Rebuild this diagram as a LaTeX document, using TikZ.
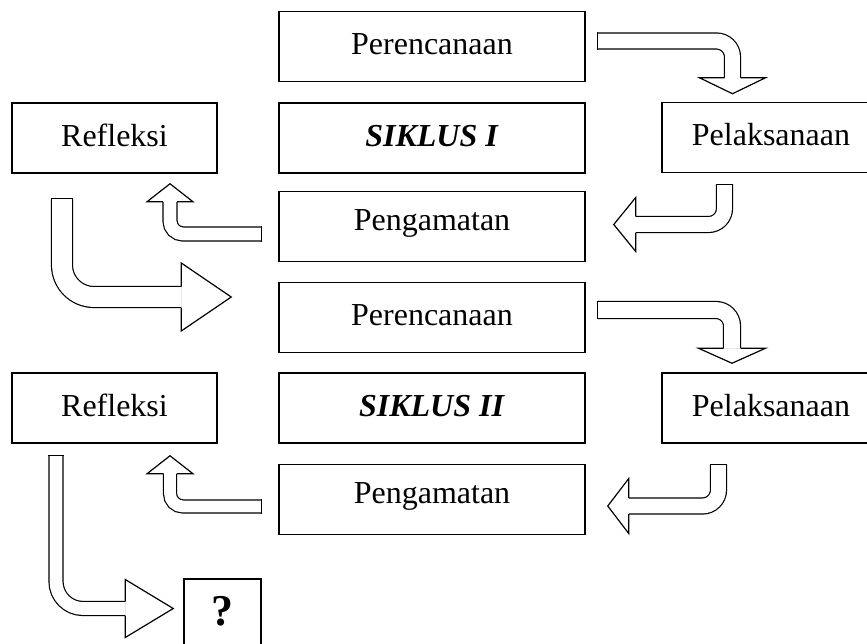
\documentclass[tikz,border=0pt]{standalone}
\usepackage{fontspec}
\setmainfont{Liberation Serif}
\usetikzlibrary{calc}
\newcommand{\arrowlw}{1.2pt}
% hollow bent block arrow: start, corner, tip, half shaft, half head, head length, bend radius
\newcommand{\bentarrow}[7]{%
  \coordinate (ab) at ($(#3)!#6!(#2)$);
  \pgfmathsetlengthmacro{\gap}{2*#4-\arrowlw}
  \draw[line width=\arrowlw, double, double distance=\gap, rounded corners=#7] (#1) -- (#2) -- (ab);
  \draw[line width=\arrowlw, line cap=rect] ($(#1)!#4!90:(#2)$) -- ($(#1)!#4!-90:(#2)$);
  \filldraw[line width=\arrowlw, fill=white] ($(ab)!#4!90:(#3)$) -- ($(ab)!#5!90:(#3)$) -- (#3)
     -- ($(ab)!#5!-90:(#3)$) -- ($(ab)!#4!-90:(#3)$);}

\begin{document}
\begin{tikzpicture}[x=1pt, y=-1pt, font=\fontsize{32}{38}\selectfont,
    box/.style={draw, line width=1.5pt, minimum height=70pt, inner sep=0pt, text height=22pt, text depth=6pt},
    midbox/.style={box, minimum width=306pt},
    obsbox/.style={midbox, text depth=14pt},
    sidebox/.style={box, minimum width=205pt},
    actbox/.style={box, minimum width=218pt}]
  \useasboundingbox (0,0) rectangle (867,643);
  % ================================================================== cycle I
  \node[midbox] (pren1) at (432,46.5) {Perencanaan};
  \node[midbox] (sik1) at (432,138) {\textbf{\textit{SIKLUS I}}};
  \node[obsbox] (amat1) at (432,226.5) {Pengamatan};
  \node[sidebox] (refl1) at (114.5,138) {Refleksi};
  \node[actbox] (laks1) at (771,137.5) {Pelaksanaan};
  % ================================================================== cycle II
  \node[midbox] (pren2) at (432,317.5) {Perencanaan};
  \node[midbox] (sik2) at (432,408) {\textbf{\textit{SIKLUS II}}};
  \node[obsbox] (amat2) at (432,499.5) {Pengamatan};
  \node[sidebox] (refl2) at (114.5,408) {Refleksi};
  \node[actbox] (laks2) at (771,408) {Pelaksanaan};
  \node[box, minimum width=77pt, minimum height=68pt, font=\fontsize{44}{50}\selectfont\bfseries,
        text height=30pt] (hasil) at (222.5,613) {?};
  % ================================================================== block arrows
  \coordinate (a1s) at ($(pren1.east)+(12,-5.5)$);
  \coordinate (a1t) at ($(laks1.north)+(-38.5,-8)$);
  \coordinate (a1c) at (a1s -| a1t);
  \bentarrow{a1s}{a1c}{a1t}{8pt}{33pt}{16pt}{16pt}
  \coordinate (a2s) at ($(laks1.south)+(-46.5,11)$);
  \coordinate (a2t) at ($(amat1.east)+(28,-2)$);
  \coordinate (a2c) at (a2s |- a2t);
  \bentarrow{a2s}{a2c}{a2t}{8pt}{27pt}{22pt}{16pt}
  \coordinate (a3s) at ($(amat1.west)+(-17,7.5)$);
  \coordinate (a3t) at ($(refl1.south)+(55.5,10)$);
  \coordinate (a3c) at (a3s -| a3t);
  \bentarrow{a3s}{a3c}{a3t}{7pt}{23pt}{18pt}{13pt}
  \coordinate (a4s) at ($(refl1.south)+(-52.5,25)$);
  \coordinate (a4t) at ($(pren2.west)+(-47,-20.5)$);
  \coordinate (a4c) at (a4s |- a4t);
  \bentarrow{a4s}{a4c}{a4t}{10.5pt}{34pt}{50pt}{32pt}
  \coordinate (a5s) at ($(pren2.east)+(12,-7.5)$);
  \coordinate (a5t) at ($(laks2.north)+(-39,-9)$);
  \coordinate (a5c) at (a5s -| a5t);
  \bentarrow{a5s}{a5c}{a5t}{8.5pt}{33.5pt}{15pt}{16pt}
  \coordinate (a6s) at ($(laks2.south)+(-52.5,21)$);
  \coordinate (a6t) at ($(amat2.east)+(22,6.5)$);
  \coordinate (a6c) at (a6s |- a6t);
  \bentarrow{a6s}{a6c}{a6t}{8pt}{27.5pt}{21pt}{16pt}
  \coordinate (a7s) at ($(amat2.west)+(-17,7)$);
  \coordinate (a7t) at ($(refl2.south)+(55.5,12)$);
  \coordinate (a7c) at (a7s -| a7t);
  \bentarrow{a7s}{a7c}{a7t}{6.5pt}{23pt}{18pt}{13pt}
  \coordinate (a8s) at ($(refl2.south)+(-58.5,12)$);
  \coordinate (a8t) at ($(hasil.west)+(-10,-4.5)$);
  \coordinate (a8c) at (a8s |- a8t);
  \bentarrow{a8s}{a8c}{a8t}{7pt}{29pt}{48pt}{27pt}
\end{tikzpicture}
\end{document}
